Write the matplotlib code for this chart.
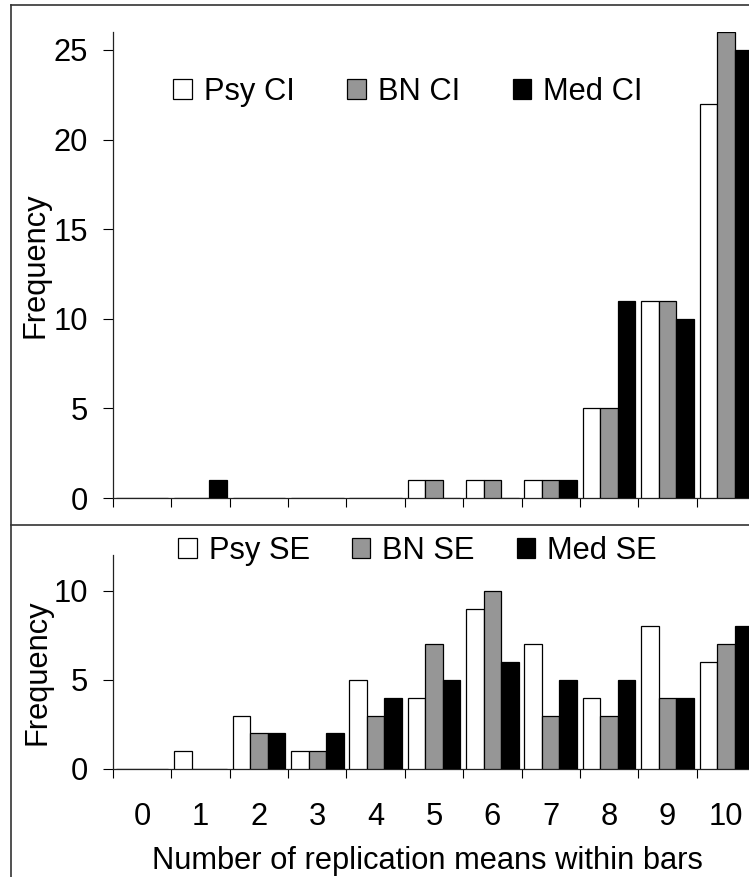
import numpy as np
import matplotlib
matplotlib.use('Agg')
import matplotlib.pyplot as plt
from matplotlib.patches import Patch
from matplotlib.lines import Line2D

plt.rcParams['font.family'] = ['Liberation Sans', 'DejaVu Sans']

categories = list(range(11))
cat_labels = [str(c) for c in categories]

psy_ci = [0, 0, 0, 0, 0, 1, 1, 1, 5, 11, 22]
bn_ci = [0, 0, 0, 0, 0, 1, 1, 1, 5, 11, 26]
med_ci = [0, 1, 0, 0, 0, 0, 0, 1, 11, 10, 25]

psy_se = [0, 1, 3, 1, 5, 4, 9, 7, 4, 8, 6]
bn_se = [0, 0, 2, 1, 3, 7, 10, 3, 3, 4, 7]
med_se = [0, 0, 2, 2, 4, 5, 6, 5, 5, 4, 8]

W, H = 749, 877
fig = plt.figure(figsize=(W / 100, H / 100), dpi=100)

FS = 22.2
colors = ['white', '#969696', 'black']
bw = 0.3


def px(x, y):
    return x / W, 1 - y / H


def panel(ax, series, ymax, yticks):
    x = np.arange(len(categories))
    for i, vals in enumerate(series):
        ax.bar(x + (i - 1) * bw, vals, width=bw, color=colors[i],
               edgecolor='black', linewidth=0.9, zorder=3)
    ax.set_xlim(-0.5, 10.5)
    ax.set_ylim(0, ymax)
    ax.set_yticks(yticks)
    ax.set_xticks(np.arange(-0.5, 11, 1))
    ax.set_xticklabels([])
    ax.tick_params(axis='x', which='major', length=6.5, width=0.8, direction='out')
    ax.tick_params(axis='y', length=7, width=0.8, direction='out',
                   labelsize=FS, pad=11)
    for s in ['top', 'right']:
        ax.spines[s].set_visible(False)
    for s in ['left', 'bottom']:
        ax.spines[s].set_linewidth(0.9)
        ax.spines[s].set_color('#222222')


left = 113 / W
width = 642 / W

ax1 = fig.add_axes([left, 1 - 498 / H, width, (498 - 32) / H])
panel(ax1, [psy_ci, bn_ci, med_ci], 26, [0, 5, 10, 15, 20, 25])

ax2 = fig.add_axes([left, 1 - 769 / H, width, (769 - 555) / H])
panel(ax2, [psy_se, bn_se, med_se], 12, [0, 5, 10])
ax2.set_xticks(np.arange(len(categories)), minor=True)
ax2.set_xticklabels(cat_labels, minor=True, fontsize=FS)
ax2.tick_params(axis='x', which='minor', length=0, pad=24)
ax2.set_xlabel('Number of replication means within bars', fontsize=FS)
ax2.xaxis.set_label_coords(0.49, -0.36)

fig.text(*px(36, 265), 'Frequency', rotation=90, ha='center', va='center', fontsize=FS)
fig.text(*px(38, 672), 'Frequency', rotation=90, ha='center', va='center', fontsize=FS)


def legend(labels, anchor, spacing):
    handles = [Patch(facecolor=c, edgecolor='black', linewidth=0.9) for c in colors]
    fig.legend(handles, labels, loc='center left', bbox_to_anchor=px(*anchor),
               bbox_transform=fig.transFigure, ncol=3, frameon=False,
               fontsize=FS, handlelength=0.6, handleheight=0.6,
               handletextpad=0.4, columnspacing=spacing,
               borderpad=0, borderaxespad=0)


legend(['Psy CI', 'BN CI', 'Med CI'], (173, 92), 1.7)
legend(['Psy SE', 'BN SE', 'Med SE'], (178, 551), 1.35)

# frame lines of the original layout
for xs, ys in [((11, 11), (5, H)), ((11, W), (5, 5)), ((11, W), (525, 525))]:
    fig.add_artist(Line2D([x / W for x in xs], [1 - y / H for y in ys],
                          color='#333333', linewidth=1.2, transform=fig.transFigure))

fig.savefig('out.png', dpi=100)
